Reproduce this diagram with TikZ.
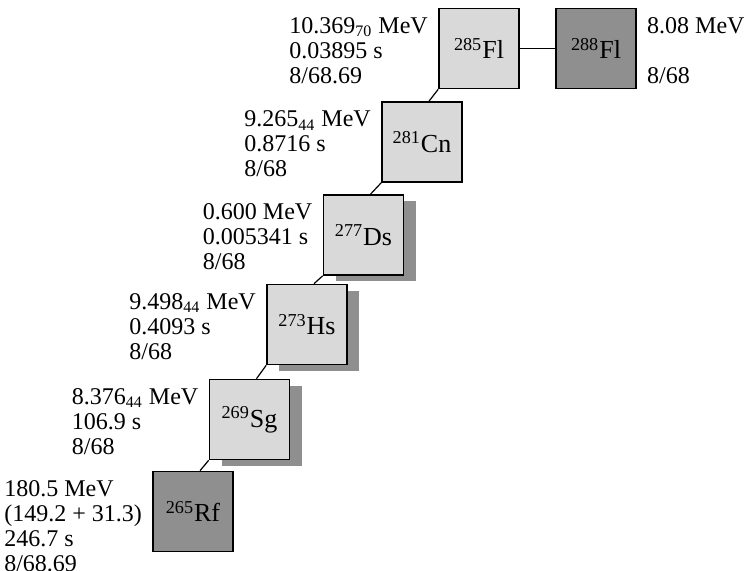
\documentclass[tikz,border=0pt]{standalone}
\usepackage{fontspec}
\setmainfont{Liberation Serif}
\usepackage{xcolor}
\usetikzlibrary{positioning, shadows, calc}

\definecolor{lightgrey}{gray}{0.85}
\definecolor{deepgrey}{gray}{0.56}

\tikzset{
    nuclide/.style={draw, line width=0.8pt, fill=lightgrey, minimum size=40pt, inner sep=0pt, font=\fontsize{13}{15}\selectfont},
    endnuclide/.style={nuclide, fill=deepgrey},
    shadowed/.style={drop shadow={shadow xshift=6pt, shadow yshift=-3.25pt, fill=deepgrey, opacity=1}},
    info/.style={align=left, inner sep=3pt, font=\fontsize{12}{12.5}\selectfont},
    link/.style={line width=0.6pt}
}

\begin{document}
\begin{tikzpicture}[x=0.5pt, y=-0.5pt]
                    \useasboundingbox (0,0) rectangle (746,571);

                    \node[nuclide] (Nuclide1) at (479,48.5) {\textsuperscript{285}Fl};
                    \node[endnuclide] (Nuclide0) at (596,48.5) {\textsuperscript{288}Fl};
                    \node[nuclide] (Nuclide2) at (422,142) {\textsuperscript{281}Cn};
                    \node[nuclide, shadowed] (Nuclide3) at (363.5,235) {\textsuperscript{277}Ds};
                    \node[nuclide, shadowed] (Nuclide4) at (307,324.5) {\textsuperscript{273}Hs};
                    \node[nuclide, shadowed] (Nuclide5) at (249.5,419.5) {\textsuperscript{269}Sg};
                    \node[endnuclide] (Nuclide6) at (193,511.5) {\textsuperscript{265}Rf};

                    \node[info, below right=1.5pt and 2pt of Nuclide0.north east] (Info0) {8.08 MeV\\ ~\\ 8/68};
                    \node[info, below left=1.5pt and 2pt of Nuclide1.north west] (Info1) {10.369\textsubscript{70} MeV\\0.03895 s\\8/68.69};
                    \node[info, below left=1.5pt and 2pt of Nuclide2.north west] (Info2) {9.265\textsubscript{44} MeV\\0.8716 s\\8/68};
                    \node[info, below left=1.5pt and 2pt of Nuclide3.north west] (Info3) {0.600 MeV\\0.005341 s\\8/68};
                    \node[info, below left=1.5pt and 2pt of Nuclide4.north west] (Info4) {9.498\textsubscript{44} MeV\\0.4093 s\\8/68};
                    \node[info, below left=1.5pt and 2pt of Nuclide5.north west] (Info5) {8.376\textsubscript{44} MeV\\106.9 s\\8/68};
                    \node[info, below left=1.5pt and 2pt of Nuclide6.north west] (Info6) {180.5 MeV\\(149.2 + 31.3)\\246.7 s\\8/68.69};

                    \draw[link] (Nuclide1.east) to (Nuclide0.west);
                    \draw[link] (Nuclide1.south west) to ([xshift=3.5pt]Nuclide2.north);
                    \draw[link] (Nuclide2.south west) to ([xshift=3.5pt]Nuclide3.north);
                    \draw[link] (Nuclide3.south west) to ([xshift=3.5pt]Nuclide4.north);
                    \draw[link] (Nuclide4.south west) to ([xshift=3.5pt]Nuclide5.north);
                    \draw[link] (Nuclide5.south west) to ([xshift=3.5pt]Nuclide6.north);
\end{tikzpicture}
\end{document}
